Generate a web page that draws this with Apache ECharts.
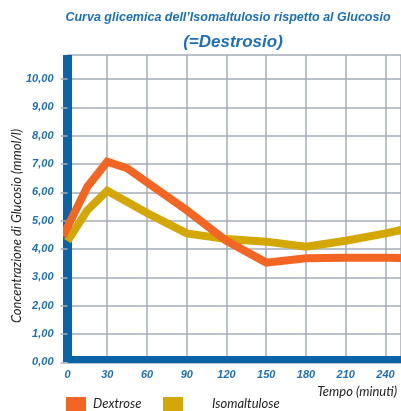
<!DOCTYPE html>
<html><head><meta charset="utf-8">
<script src="https://cdn.jsdelivr.net/npm/echarts@6/dist/echarts.min.js"></script>
<style>html,body{margin:0;padding:0;background:#fff}#c{width:401px;height:411px}</style>
</head><body><div id="c"></div>
<script>
const titleLine1 = 'Curva glicemica dell\u2019Isomaltulosio rispetto al Glucosio';
const titleLine2 = '(=Destrosio)';
const yAxisTitle = 'Concentrazione di Glucosio (mmol/l)';
const xAxisTitle = 'Tempo (minuti)';
const seriesNames = ['Dextrose', 'Isomaltulose'];
const dextroseTimes = [-3.5, 15, 30, 45, 90, 120, 150, 180, 210, 240, 252];
const dextroseValues = [4.45, 6.20, 7.08, 6.85, 5.37, 4.29, 3.52, 3.67, 3.69, 3.69, 3.68];
const isoTimes = [0, 15, 30, 60, 90, 120, 150, 180, 210, 240, 252];
const isoValues = [4.28, 5.37, 6.06, 5.27, 4.55, 4.35, 4.26, 4.08, 4.29, 4.55, 4.67];

const blue = '#0b64a8';
const labelBlue = '#1f6fb6';
const boldFont = '"Liberation Sans", Arial, sans-serif';
const font = 'Lato, "Noto Sans", sans-serif';

const chart = echarts.init(document.getElementById('c'), null, {renderer: 'canvas'});
chart.setOption({
  animation: false,
  backgroundColor: '#fff',
  title: [
    {text: titleLine1, left: 228, top: 11, textAlign: 'center', padding: 0,
     textStyle: {color: labelBlue, fontSize: 12.5, fontWeight: 'bold', fontStyle: 'italic', fontFamily: boldFont}},
    {text: titleLine2, left: 233, top: 34, textAlign: 'center', padding: 0,
     textStyle: {color: labelBlue, fontSize: 17, fontWeight: 'bold', fontStyle: 'italic', fontFamily: boldFont}}
  ],
  legend: [
    {data: [seriesNames[0]], left: 66, top: 397, padding: 0, itemWidth: 20, itemHeight: 14, icon: 'rect',
     textStyle: {color: '#222', fontSize: 13, fontStyle: 'italic', fontFamily: font, padding: [3,0,0,2]}},
    {data: [seriesNames[1]], left: 163, top: 397, padding: 0, itemWidth: 20, itemHeight: 14, icon: 'rect',
     textStyle: {color: '#222', fontSize: 13, fontStyle: 'italic', fontFamily: font, padding: [3,0,0,24]}}
  ],
  grid: {left: 67.5, right: 0, top: 55, bottom: 48.7, containLabel: false},
  xAxis: {
    type: 'value', min: 0, max: 251.7, interval: 30,
    offset: -3,
    axisLine: {show: true, onZero: false, lineStyle: {color: blue, width: 7, cap: 'butt'}},
    axisTick: {show: false},
    axisLabel: {color: labelBlue, fontSize: 11, fontWeight: 'bold', fontStyle: 'italic', fontFamily: boldFont,
                margin: 10, showMaxLabel: false},
    splitLine: {show: true, lineStyle: {color: '#a3adb7', width: 1.5}}
  },
  yAxis: {
    type: 'value', min: 0, max: 10.85, interval: 1,
    axisLine: {show: true, onZero: false, lineStyle: {color: blue, width: 9, cap: 'butt'}},
    axisTick: {show: true, length: 7, lineStyle: {color: '#a3adb7', width: 1.5}},
    axisLabel: {color: labelBlue, fontSize: 11, fontWeight: 'bold', fontStyle: 'italic', fontFamily: boldFont,
                margin: 14, showMaxLabel: false,
                formatter: v => v.toFixed(2).replace('.', ',')},
    splitLine: {show: true, lineStyle: {color: '#a3adb7', width: 1.5}}
  },
  graphic: [
    {type: 'text', x: 17, y: 226, rotation: Math.PI / 2,
     style: {text: yAxisTitle, fill: '#222', font: 'italic 13px ' + font, textAlign: 'center', textVerticalAlign: 'middle'}},
    {type: 'text', x: 397, y: 392,
     style: {text: xAxisTitle, fill: '#222', font: 'italic 13px ' + font, textAlign: 'right', textVerticalAlign: 'middle'}}
  ],
  series: [
    {name: seriesNames[0], type: 'line', clip: false, symbol: 'none', z: 5,
     data: dextroseTimes.map((t, i) => [t, dextroseValues[i]]),
     itemStyle: {color: '#f26522'}, lineStyle: {color: '#f26522', width: 8, join: 'miter'}},
    {name: seriesNames[1], type: 'line', clip: false, symbol: 'none', z: 4,
     data: isoTimes.map((t, i) => [t, isoValues[i]]),
     itemStyle: {color: '#d3a806'}, lineStyle: {color: '#d3a806', width: 8, join: 'miter'}}
  ]
});
</script></body></html>
